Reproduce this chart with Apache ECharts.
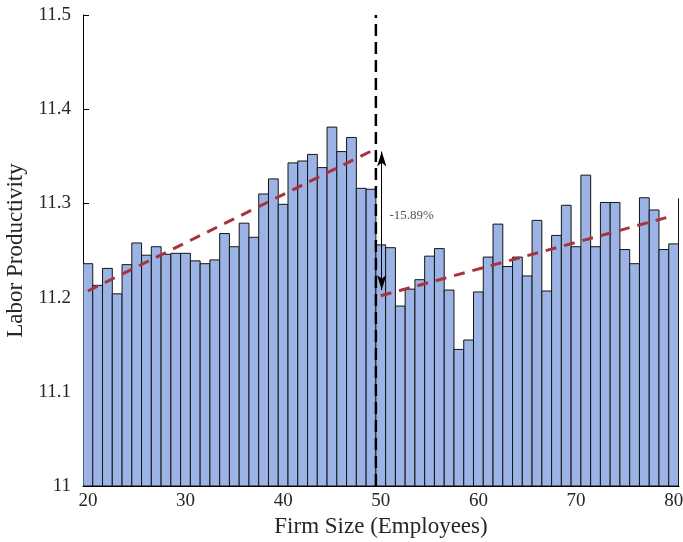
<!DOCTYPE html>
<html>
<head>
<meta charset="utf-8">
<script src="https://cdn.jsdelivr.net/npm/echarts@6/dist/echarts.min.js"></script>
<style>html,body{margin:0;padding:0;background:#fff}#c{width:683px;height:542px}</style>
</head>
<body>
<div id="c"></div>
<script>
// Firm size (employees) for each bar
const firmSize = [20,21,22,23,24,25,26,27,28,29,30,31,32,33,34,35,36,37,38,39,40,41,42,43,44,45,46,47,48,49,50,51,52,53,54,55,56,57,58,59,60,61,62,63,64,65,66,67,68,69,70,71,72,73,74,75,76,77,78,79,80,81];
// Labor productivity for each bar
const productivity = [11.236,11.213,11.231,11.204,11.235,11.258,11.245,11.254,11.246,11.247,11.247,11.239,11.236,11.240,11.268,11.254,11.279,11.264,11.310,11.326,11.299,11.343,11.345,11.352,11.338,11.381,11.355,11.370,11.316,11.315,11.256,11.253,11.191,11.209,11.219,11.244,11.252,11.208,11.145,11.155,11.206,11.243,11.278,11.233,11.243,11.223,11.282,11.207,11.266,11.298,11.254,11.330,11.254,11.301,11.301,11.251,11.236,11.306,11.293,11.251,11.257,11.305];
// Fitted trend lines
const leftFitX = [20, 49.5];
const leftFitY = [11.207, 11.358];
const rightFitX = [50, 80];
const rightFitY = [11.202, 11.287];
// Threshold
const cutoffX = [49.5, 49.5];
const cutoffY = [11, 11.5];
// Gap arrow and label
const arrowX = 50.1;
const arrowY = [11.208, 11.355];
const gapLabel = '-15.89%';
const gapLabelPos = [50.9, 11.287];
// Axis ticks
const xTicks = [20,30,40,50,60,70,80];
const yTicks = [11,11.1,11.2,11.3,11.4,11.5];

const FONT = 'Liberation Serif';
const TXT = '#262626';

const chart = echarts.init(document.getElementById('c'), null, {renderer:'canvas'});
chart.setOption({
  animation: false,
  backgroundColor: '#fff',
  grid: {left: 83, right: 4, top: 15, bottom: 56, containLabel: false, outerBoundsMode: 'none'},
  xAxis: {
    type: 'value', min: 19.5, max: 80.55,
    name: 'Firm Size (Employees)', nameLocation: 'middle', nameGap: 29,
    nameTextStyle: {fontFamily: FONT, fontSize: 23, color: TXT},
    axisLine: {show: true, lineStyle: {color: '#000', width: 1}},
    axisTick: {show: false, customValues: xTicks},
    axisLabel: {customValues: xTicks, fontFamily: FONT, fontSize: 19, color: TXT, margin: 6},
    splitLine: {show: false}
  },
  yAxis: {
    type: 'value', min: 11, max: 11.5,
    name: 'Labor Productivity', nameLocation: 'middle', nameGap: 54,
    nameTextStyle: {fontFamily: FONT, fontSize: 23, color: TXT},
    axisLine: {show: true, lineStyle: {color: '#000', width: 1}},
    axisTick: {show: true, inside: true, length: 6, customValues: yTicks, lineStyle: {color: '#000'}},
    axisLabel: {customValues: yTicks, fontFamily: FONT, fontSize: 19, color: TXT, margin: 12,
      formatter: v => String(+v.toFixed(1))},
    splitLine: {show: false}
  },
  series: [
    {
      type: 'custom',
      clip: true,
      data: firmSize.map((x, i) => [x, productivity[i]]),
      encode: {x: 0, y: 1},
      renderItem: function (params, api) {
        const x = api.value(0), v = api.value(1);
        const p0 = api.coord([x - 0.5, v]);
        const p1 = api.coord([x + 0.5, 11]);
        const cs = params.coordSys;
        let x0 = Math.max(p0[0], cs.x), x1 = Math.min(p1[0], cs.x + cs.width);
        if (x1 <= x0) x1 = x0 + 0.01;
        return {
          type: 'rect',
          shape: {x: x0, y: p0[1], width: x1 - x0, height: p1[1] - p0[1]},
          style: {fill: '#9cb4e5', stroke: '#141414', lineWidth: 1}
        };
      },
      z: 2
    },
    {
      type: 'line', data: leftFitX.map((x, i) => [x, leftFitY[i]]),
      showSymbol: false, symbol: 'none',
      lineStyle: {color: '#a8323f', width: 3, type: [11, 8]}, z: 5
    },
    {
      type: 'line', data: rightFitX.map((x, i) => [x, rightFitY[i]]),
      showSymbol: false, symbol: 'none',
      lineStyle: {color: '#a8323f', width: 3, type: [11, 8]}, z: 5
    },
    {
      type: 'line', data: cutoffX.map((x, i) => [x, cutoffY[i]]),
      showSymbol: false, symbol: 'none',
      lineStyle: {color: '#000', width: 2.5, type: [12, 6]}, z: 6
    },
    {
      type: 'scatter', symbolSize: 0,
      data: [gapLabelPos],
      label: {show: true, position: 'right', distance: 0, formatter: gapLabel,
        fontFamily: FONT, fontSize: 13, color: TXT},
      markLine: {
        silent: true, animation: false,
        symbol: ['arrow', 'arrow'], symbolSize: [7, 15],
        label: {show: false},
        lineStyle: {color: '#000', width: 1, type: 'solid'},
        data: [[{coord: [arrowX, arrowY[0]]}, {coord: [arrowX, arrowY[1]]}]]
      },
      z: 7
    }
  ]
});
</script>
</body>
</html>
